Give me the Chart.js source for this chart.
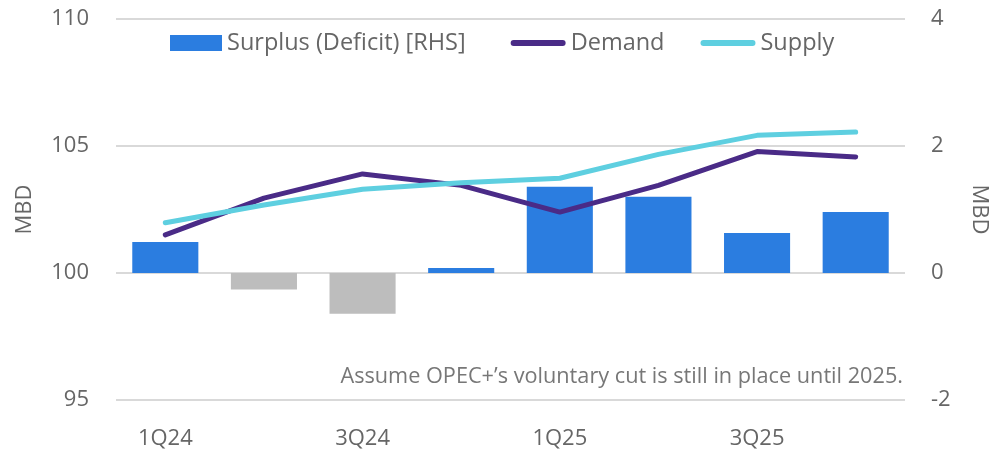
<!DOCTYPE html>
<html>
<head>
<meta charset="utf-8">
<script src="https://cdn.jsdelivr.net/npm/chart.js@4"></script>
<style>
html,body{margin:0;padding:0;background:#fff;}
#wrap{width:992px;height:451px;position:relative;}
</style>
</head>
<body>
<div id="wrap"><canvas id="c" width="992" height="451"></canvas></div>
<script>
const categories = ['1Q24','2Q24','3Q24','4Q24','1Q25','2Q25','3Q25','4Q25'];
const surplus = [0.49, -0.26, -0.64, 0.08, 1.36, 1.20, 0.63, 0.96];
const demand = [101.5, 102.95, 103.9, 103.45, 102.4, 103.45, 104.78, 104.57];
const supply = [101.98, 102.68, 103.3, 103.55, 103.73, 104.67, 105.42, 105.55];
const leftTicks = [95, 100, 105, 110];
const rightTicks = [-2, 0, 2, 4];
const note = 'Assume OPEC+\u2019s voluntary cut is still in place until 2025.';

const FONT = '"Open Sans", Inter, sans-serif';
const BLUE = '#2B7DE0';
const GREY = '#BDBDBD';
const PURPLE = '#4A2B87';
const CYAN = '#5ECFE0';
const TXT = '#666666';

const notePlugin = {
  id: 'note',
  afterDatasetsDraw(chart) {
    const {ctx, chartArea} = chart;
    ctx.save();
    ctx.font = '21.7px ' + FONT;
    ctx.fillStyle = '#777777';
    ctx.textAlign = 'right';
    ctx.textBaseline = 'middle';
    ctx.fillText(note, chartArea.right - 2, 377);
    ctx.restore();
  }
};

const legendPlugin = {
  id: 'inlineLegend',
  afterDraw(chart) {
    const {ctx, chartArea} = chart;
    const ds = chart.data.datasets;
    const cy = chartArea.top + 24;
    let x = chartArea.left + 54;
    ctx.save();
    ctx.font = '23.5px ' + FONT;
    ctx.textBaseline = 'middle';
    ctx.textAlign = 'left';
    ds.forEach((d, i) => {
      if (d.type === 'bar') {
        ctx.fillStyle = BLUE;
        ctx.fillRect(x, cy - 8, 52, 16);
        x += 52;
      } else {
        ctx.strokeStyle = d.borderColor;
        ctx.lineWidth = 6;
        ctx.lineCap = 'round';
        ctx.beginPath();
        ctx.moveTo(x + 3, cy);
        ctx.lineTo(x + 52, cy);
        ctx.stroke();
        x += 55;
      }
      x += 5;
      ctx.fillStyle = TXT;
      ctx.fillText(d.label, x, cy);
      x += ctx.measureText(d.label).width + (d.type === 'bar' ? 45 : 36);
    });
    ctx.restore();
  }
};

new Chart(document.getElementById('c'), {
  type: 'bar',
  data: {
    labels: categories,
    datasets: [
      {
        type: 'bar',
        label: 'Surplus (Deficit) [RHS]',
        data: surplus,
        yAxisID: 'y1',
        backgroundColor: surplus.map(v => v >= 0 ? BLUE : GREY),
        borderWidth: 0,
        barPercentage: 0.67,
        categoryPercentage: 1,
        order: 3
      },
      {
        type: 'line',
        label: 'Demand',
        data: demand,
        yAxisID: 'y',
        borderColor: PURPLE,
        backgroundColor: PURPLE,
        borderWidth: 5,
        borderCapStyle: 'round',
        borderJoinStyle: 'round',
        pointRadius: 0,
        tension: 0,
        order: 2
      },
      {
        type: 'line',
        label: 'Supply',
        data: supply,
        yAxisID: 'y',
        borderColor: CYAN,
        backgroundColor: CYAN,
        borderWidth: 5,
        borderCapStyle: 'round',
        borderJoinStyle: 'round',
        pointRadius: 0,
        tension: 0,
        order: 1
      }
    ]
  },
  options: {
    responsive: false,
    animation: false,
    devicePixelRatio: 1,
    layout: { padding: { top: 19, left: 0, right: 0, bottom: 0 } },
    plugins: {
      tooltip: { enabled: false },
      legend: { display: false }
    },
    scales: {
      x: {
        offset: true,
        grid: { display: false, drawTicks: false },
        border: { display: false },
        ticks: {
          autoSkip: false,
          maxRotation: 0,
          padding: 26,
          color: TXT,
          font: { family: FONT, size: 22 },
          callback: function(v, i) { return i % 2 === 0 ? categories[i] : ''; }
        },
        afterFit(s) { s.height = 51; s.paddingLeft = 0; s.paddingRight = 0; }
      },
      y: {
        position: 'left',
        min: 95, max: 110,
        afterBuildTicks(s) { s.ticks = leftTicks.map(v => ({ value: v })); },
        grid: { color: '#D9D9D9', lineWidth: 2, drawTicks: false },
        border: { display: false },
        ticks: {
          padding: 27,
          color: TXT,
          font: { family: FONT, size: 22 }
        },
        title: {
          display: true,
          text: 'MBD',
          color: TXT,
          font: { family: FONT, size: 22 },
          padding: { top: 12, bottom: 0 }
        },
        afterFit(s) { s.width = 116; s.paddingTop = 0; s.paddingBottom = 0; }
      },
      y1: {
        position: 'right',
        min: -2, max: 4,
        afterBuildTicks(s) { s.ticks = rightTicks.map(v => ({ value: v })); },
        grid: { display: false, drawTicks: false },
        border: { display: false },
        ticks: {
          padding: 26,
          color: TXT,
          font: { family: FONT, size: 22 }
        },
        title: {
          display: true,
          text: 'MBD',
          color: TXT,
          font: { family: FONT, size: 22 },
          padding: { top: 0, bottom: 0 }
        },
        afterFit(s) { s.width = 87; s.paddingTop = 0; s.paddingBottom = 0; }
      }
    }
  },
  plugins: [notePlugin, legendPlugin]
});
</script>
</body>
</html>
